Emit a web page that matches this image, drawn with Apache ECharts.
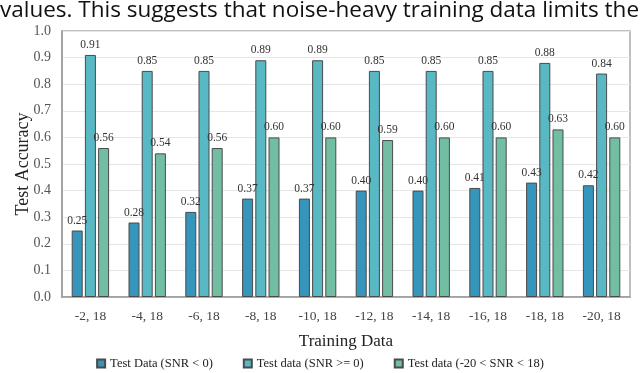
<!DOCTYPE html>
<html><head><meta charset="utf-8">
<script src="https://cdn.jsdelivr.net/npm/echarts@6/dist/echarts.min.js"></script>
<style>html,body{margin:0;padding:0;background:#fff;}#c{width:640px;height:373px;}</style>
</head><body><div id="c"></div>
<script>
const categories = ['-2, 18','-4, 18','-6, 18','-8, 18','-10, 18','-12, 18','-14, 18','-16, 18','-18, 18','-20, 18'];
const seriesNames = ['Test Data (SNR < 0)','Test data (SNR >= 0)','Test data (-20 < SNR < 18)'];
const snrNeg = [0.25,0.28,0.32,0.37,0.37,0.40,0.40,0.41,0.43,0.42];
const snrPos = [0.91,0.85,0.85,0.89,0.89,0.85,0.85,0.85,0.88,0.84];
const snrAll = [0.56,0.54,0.56,0.60,0.60,0.59,0.60,0.60,0.63,0.60];
const colors = ['#3595BB','#58B8C3','#72BEA3'];
const serif = '"Liberation Serif", "DejaVu Serif", serif';
const chart = echarts.init(document.getElementById('c'));
const mk = (name, data, color) => ({
  name, type:'bar', data, barWidth:11, barGap:'20%',
  itemStyle:{color, borderColor:'#4a4a4a', borderWidth:1},
  label:{show:true, position:'top', formatter:p=>p.value.toFixed(2), fontFamily:serif, fontSize:11.5, color:'#333', distance:4}
});
chart.setOption({
  animation:false,
  textStyle:{fontFamily:serif},
  graphic:[
    {type:'text', left:0, top:-1, style:{text:'values. This suggests that noise-heavy training data limits the', font:'22.5px "Open Sans", sans-serif', fill:'#111'}},
    {type:'text', x:23, y:164, rotation:Math.PI/2, style:{text:'Test Accuracy', font:'18px "Liberation Serif", serif', fill:'#222', align:'center', verticalAlign:'middle'}}
  ],
  grid:{left:62, right:10, top:31, bottom:76, show:true, borderColor:'#aaa', borderWidth:1.5},
  legend:{bottom:3, padding:0, left:'center', itemWidth:8, itemHeight:8, itemGap:30, icon:'rect',
    textStyle:{fontFamily:serif, fontSize:12.5, color:'#222'}, data:seriesNames},
  xAxis:{type:'category', data:categories, name:'Training Data', nameLocation:'middle', nameGap:36,
    nameTextStyle:{fontFamily:serif, fontSize:17, color:'#222'},
    axisLine:{lineStyle:{color:'#999', width:1.5}}, axisTick:{show:false},
    axisLabel:{fontFamily:serif, fontSize:13.5, color:'#444', margin:12}},
  yAxis:{type:'value', min:0, max:1, interval:0.1,
    axisLine:{show:true, lineStyle:{color:'#999', width:1.5}},
    axisLabel:{fontFamily:serif, fontSize:14, color:'#555', margin:11, formatter:v=>v.toFixed(1)},
    splitLine:{lineStyle:{color:'#e6e6e6'}}},
  series:[mk(seriesNames[0], snrNeg, colors[0]), mk(seriesNames[1], snrPos, colors[1]), mk(seriesNames[2], snrAll, colors[2])]
});
</script></body></html>
